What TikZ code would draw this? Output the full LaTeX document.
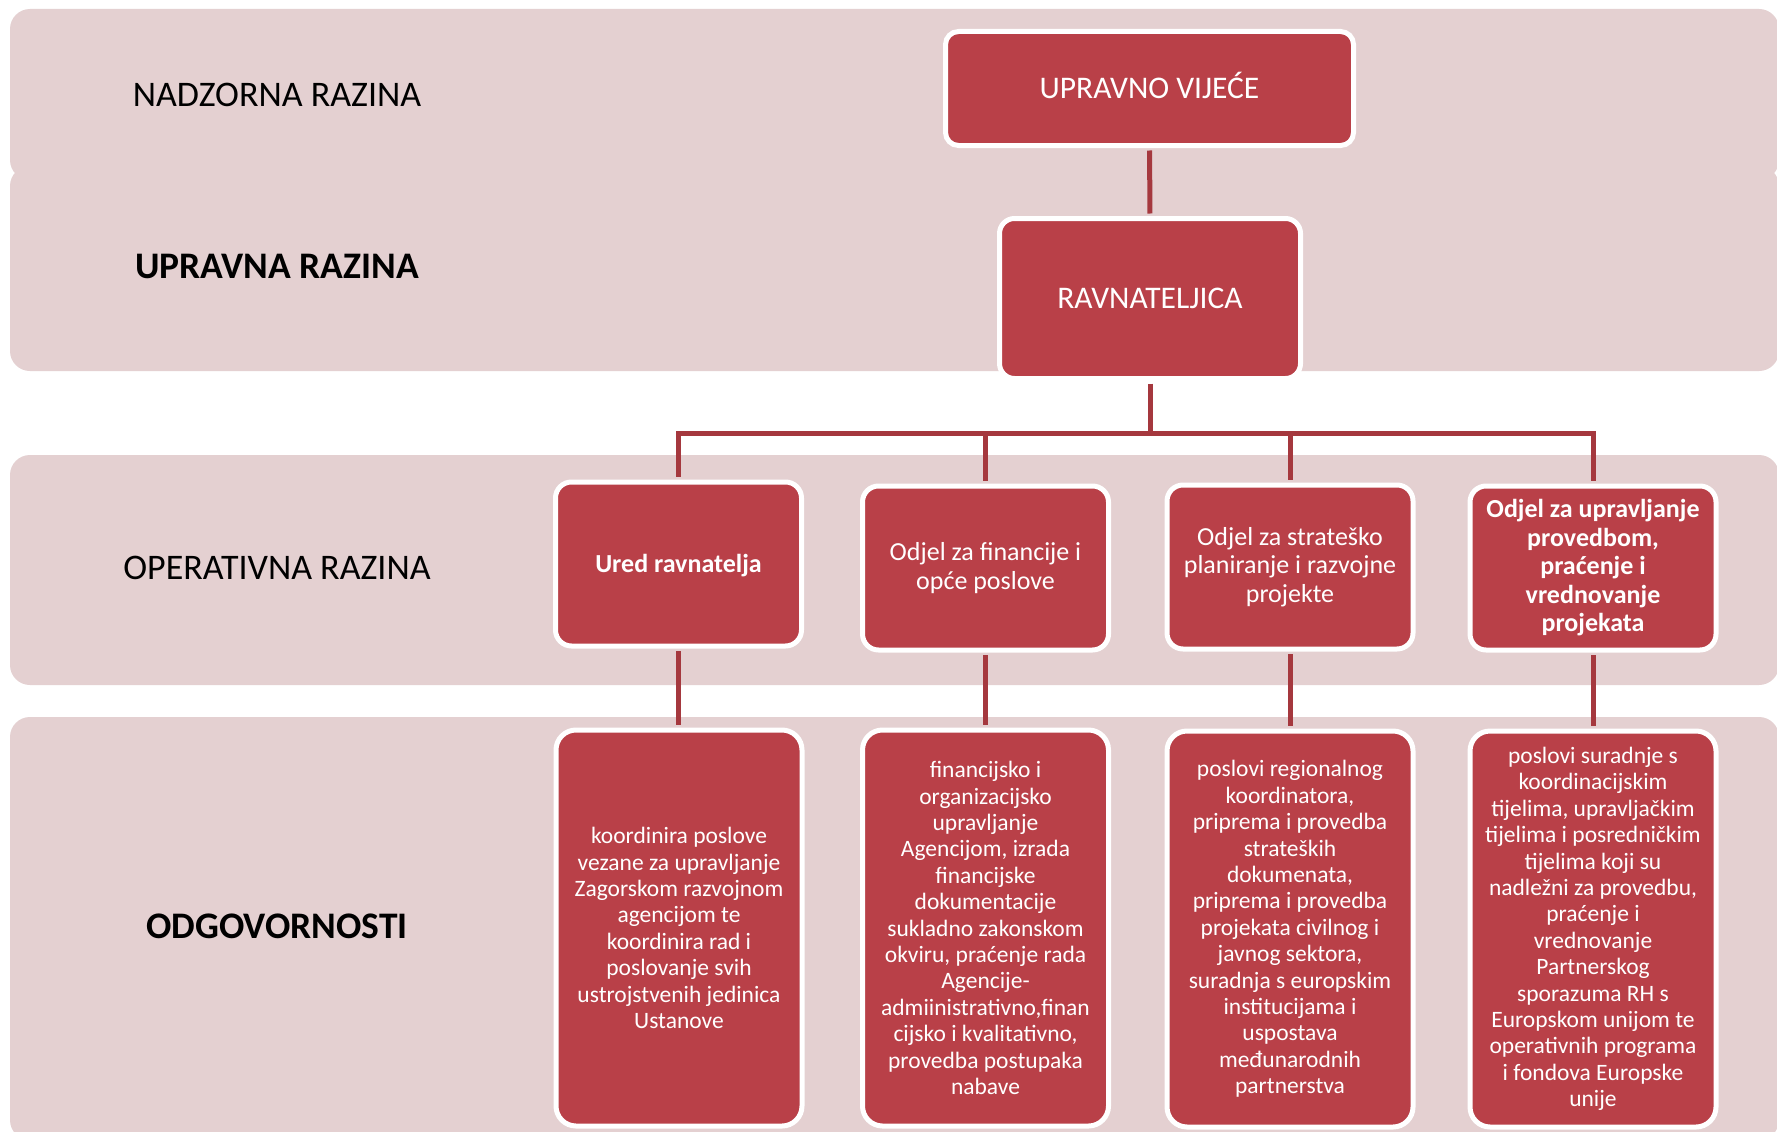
\documentclass[tikz,border=0pt]{standalone}
\usepackage{fontspec}
\setmainfont{Carlito}
\definecolor{bandpink}{HTML}{E4D0D1}
\definecolor{boxred}{HTML}{B94048}
\definecolor{linered}{HTML}{A5383E}
\begin{document}
\begin{tikzpicture}[x=1pt,y=-1pt,
  band/.style={fill=bandpink, rounded corners=20pt},
  redbox/.style={rectangle, rounded corners=16pt, fill=boxred, draw=white, line width=5pt,
    text=white, align=center, inner sep=0pt},
  topbox/.style={redbox, rounded corners=13pt, font=\fontsize{31.5}{36}\selectfont, text height=20pt, text depth=0pt},
  opbox/.style={redbox, minimum width=246pt, minimum height=164pt, font=\fontsize{26}{28.5}\selectfont},
  dutybox/.style={redbox, rounded corners=20pt, minimum width=246pt, minimum height=396pt, font=\fontsize{23.5}{26.4}\selectfont},
  lvl/.style={font=\fontsize{36}{40}\selectfont, text=black, inner sep=0pt, text height=23pt, text depth=0pt},
  lvlbold/.style={lvl, font=\fontsize{37.5}{41}\selectfont\bfseries},
  conn/.style={draw=linered, line width=5pt, shorten <=2.5pt, shorten >=2.5pt},
  busconn/.style={draw=linered, line width=5pt, shorten >=2.5pt}
]
\useasboundingbox (0,0) rectangle (1777,1132);
\fill[white] (0,0) rectangle (1777,1132);
% bands
\fill[band] (10,9) rectangle (1779,180);
\fill[band] (10,166) rectangle (1779,371);
\fill[band] (10,455) rectangle (1779,685);
\fill[band] (10,717) rectangle (1779,1140);
% level labels
\node[lvl] (l1) at (277,95) {NADZORNA RAZINA};
\node[lvlbold] (l2) at (277,267) {UPRAVNA RAZINA};
\node[lvl] (l3) at (277,568) {OPERATIVNA RAZINA};
\node[lvlbold] (l4) at (277,927) {ODGOVORNOSTI};
% top boxes
\node[topbox, minimum width=408pt, minimum height=114pt] (uv) at (1149.5,88.5) {UPRAVNO VIJEĆE};
\node[topbox, rounded corners=15pt, minimum width=301pt, minimum height=160pt] (rv) at (1150,298.5) {RAVNATELJICA};
% operational boxes
\node[opbox, font=\fontsize{26}{28.5}\selectfont\bfseries, text height=17pt, text depth=0pt] (o1) at (678.5,564) {Ured ravnatelja};
\node[opbox] (o2) at (985.5,568) {Odjel za financije i\\opće poslove};
\node[opbox] (o3) at (1290,567) {Odjel za strateško\\planiranje i razvojne\\projekte};
\node[opbox, font=\fontsize{26}{28.5}\selectfont\bfseries] (o4) at (1593,568) {Odjel za upravljanje\\provedbom,\\praćenje i\\vrednovanje\\projekata};
% duty boxes
\node[dutybox] (d1) at (679,928) {koordinira poslove\\vezane za upravljanje\\Zagorskom razvojnom\\agencijom te\\koordinira rad i\\poslovanje svih\\ustrojstvenih jedinica\\Ustanove};
\node[dutybox] (d2) at (985.5,928) {financijsko i\\organizacijsko\\upravljanje\\Agencijom, izrada\\financijske\\dokumentacije\\sukladno zakonskom\\okviru, praćenje rada\\Agencije-\\admiinistrativno,finan\\cijsko i kvalitativno,\\provedba postupaka\\nabave};
\node[dutybox] (d3) at (1290,929) {poslovi regionalnog\\koordinatora,\\priprema i provedba\\strateških\\dokumenata,\\priprema i provedba\\projekata civilnog i\\javnog sektora,\\suradnja s europskim\\institucijama i\\uspostava\\međunarodnih\\partnerstva};
\node[dutybox] (d4) at (1593,929) {poslovi suradnje s\\koordinacijskim\\tijelima, upravljačkim\\tijelima i posredničkim\\tijelima koji su\\nadležni za provedbu,\\praćenje i\\vrednovanje\\Partnerskog\\sporazuma RH s\\Europskom unijom te\\operativnih programa\\i fondova Europske\\unije};
% connectors
\coordinate (bus) at (1150,433);
\draw[conn] (uv.south) -- (rv.north);
\draw[draw=linered, line width=5pt, shorten <=2.5pt] (rv.south) -- (bus);
\draw[busconn] (bus) -| (o1.north);
\draw[busconn] (bus) -| (o2.north);
\draw[busconn] (bus) -| (o3.north);
\draw[busconn] (bus) -| (o4.north);
\draw[conn] (o1.south) -- (o1.south |- d1.north);
\draw[conn] (o2.south) -- (o2.south |- d2.north);
\draw[conn] (o3.south) -- (o3.south |- d3.north);
\draw[conn] (o4.south) -- (o4.south |- d4.north);
\end{tikzpicture}
\end{document}
